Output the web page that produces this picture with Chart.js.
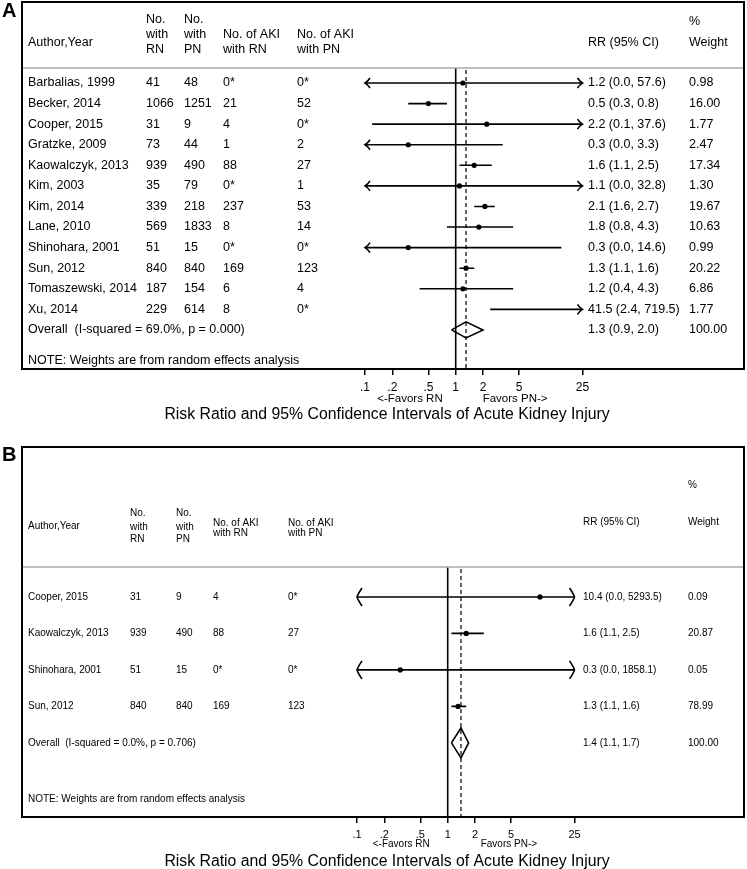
<!DOCTYPE html>
<html>
<head>
<meta charset="utf-8">
<script src="https://cdn.jsdelivr.net/npm/chart.js@4.4.0/dist/chart.umd.min.js"></script>
<style>
body { margin: 0; background: #fff; }
canvas { position: absolute; left: 0; }
</style>
</head>
<body>
<canvas id="chartA" width="747" height="430" style="top:0px"></canvas>
<canvas id="chartB" width="747" height="439" style="top:430px"></canvas>
<script>
// ---- data: panel A (all studies) ----
var studiesA = ['Barbalias, 1999', 'Becker, 2014', 'Cooper, 2015', 'Gratzke, 2009', 'Kaowalczyk, 2013', 'Kim, 2003',
                'Kim, 2014', 'Lane, 2010', 'Shinohara, 2001', 'Sun, 2012', 'Tomaszewski, 2014', 'Xu, 2014'];
var nRnA   = ['41', '1066', '31', '73', '939', '35', '339', '569', '51', '840', '187', '229'];
var nPnA   = ['48', '1251', '9', '44', '490', '79', '218', '1833', '15', '840', '154', '614'];
var akiRnA = ['0*', '21', '4', '1', '88', '0*', '237', '8', '0*', '169', '6', '8'];
var akiPnA = ['0*', '52', '0*', '2', '27', '1', '53', '14', '0*', '123', '4', '0*'];
var rrA    = [1.2, 0.5, 2.2, 0.3, 1.6, 1.1, 2.1, 1.8, 0.3, 1.3, 1.2, 41.5];
var loA    = [0.0, 0.3, 0.12, 0.0, 1.1, 0.0, 1.6, 0.8, 0.0, 1.1, 0.4, 2.4];
var hiA    = [57.6, 0.8, 37.6, 3.3, 2.5, 32.8, 2.7, 4.3, 14.6, 1.6, 4.3, 719.5];
var weightA = [0.98, 16.00, 1.77, 2.47, 17.34, 1.30, 19.67, 10.63, 0.99, 20.22, 6.86, 1.77];
var overallA = [1.3, 0.9, 2.0];   // rr, lo, hi
var overallTextA = 'Overall  (I-squared = 69.0%, p = 0.000)';

// ---- data: panel B ----
var studiesB = ['Cooper, 2015', 'Kaowalczyk, 2013', 'Shinohara, 2001', 'Sun, 2012'];
var nRnB   = ['31', '939', '51', '840'];
var nPnB   = ['9', '490', '15', '840'];
var akiRnB = ['4', '88', '0*', '169'];
var akiPnB = ['0*', '27', '0*', '123'];
var rrB    = [10.4, 1.6, 0.3, 1.3];
var loB    = [0.0, 1.1, 0.0, 1.1];
var hiB    = [5293.5, 2.5, 1858.1, 1.6];
var weightB = [0.09, 20.87, 0.05, 78.99];
var overallB = [1.4, 1.1, 1.7];
var overallTextB = 'Overall  (I-squared = 0.0%, p = 0.706)';

// axis ticks (shared)
var tickVals   = [0.1, 0.2, 0.5, 1, 2, 5, 25];
var tickLabels = ['.1', '.2', '.5', '1', '2', '5', '25'];
var X_MIN = 0.1, X_MAX = 25;

var FONT = "'Liberation Sans', Arial, sans-serif";
var TITLE = 'Risk Ratio and 95% Confidence Intervals of Acute Kidney Injury';

function rrText(r, l, h) {
    return r.toFixed(1) + ' (' + l.toFixed(1) + ', ' + h.toFixed(1) + ')';
}

// open arrowhead, dir -1 = pointing left, 1 = pointing right
function arrowHead(ctx, x, y, dir, ah, ad, bend) {
    ctx.beginPath();
    ctx.moveTo(x - dir * ad, y - ah);
    ctx.quadraticCurveTo(x - dir * ad * bend, y - ah * 0.35, x, y);
    ctx.quadraticCurveTo(x - dir * ad * bend, y + ah * 0.35, x - dir * ad, y + ah);
    ctx.stroke();
}

// draws the table, frame, arrows and captions round the plot area
function tablePlugin(p) {
    return {
        id: 'table' + p.label,
        beforeDatasetsDraw: function(chart) {
            var ctx = chart.ctx, a = chart.chartArea, xs = chart.scales.x;
            ctx.save();
            ctx.strokeStyle = '#000';
            ctx.lineWidth = 1.6;
            var x1 = xs.getPixelForValue(1);
            ctx.beginPath(); ctx.moveTo(x1, a.top); ctx.lineTo(x1, a.bottom); ctx.stroke();
            ctx.setLineDash([4, 3]);
            ctx.lineWidth = 1.2;
            var xo = xs.getPixelForValue(p.overall[0]);
            ctx.beginPath(); ctx.moveTo(xo, a.top + 2); ctx.lineTo(xo, a.bottom); ctx.stroke();
            ctx.restore();
        },
        afterDraw: function(chart) {
            var ctx = chart.ctx, a = chart.chartArea, xs = chart.scales.x, ys = chart.scales.y;
            ctx.save();
            // frame
            ctx.strokeStyle = '#000';
            ctx.lineWidth = 2;
            ctx.strokeRect(22, p.boxTop, 722, a.bottom - p.boxTop);
            // header separator
            ctx.strokeStyle = '#aaa';
            ctx.lineWidth = 1.5;
            ctx.beginPath(); ctx.moveTo(23, a.top); ctx.lineTo(743, a.top); ctx.stroke();
            // panel letter
            ctx.fillStyle = '#000';
            ctx.textBaseline = 'middle';
            ctx.font = 'bold 20px ' + FONT;
            ctx.fillText(p.label, 2, p.letterY);

            // header
            var c = p.cols;
            ctx.font = p.fontSize + 'px ' + FONT;
            var h = p.head;
            ctx.fillText('Author,Year', c[0], h.author);
            ctx.fillText('No.', c[1], h.l1); ctx.fillText('with', c[1], h.l2); ctx.fillText('RN', c[1], h.l3);
            ctx.fillText('No.', c[2], h.l1); ctx.fillText('with', c[2], h.l2); ctx.fillText('PN', c[2], h.l3);
            ctx.fillText('No. of AKI', c[3], h.k1); ctx.fillText('with RN', c[3], h.k2);
            ctx.fillText('No. of AKI', c[4], h.k1); ctx.fillText('with PN', c[4], h.k2);
            ctx.fillText('RR (95% CI)', c[5], h.rr);
            ctx.fillText('%', c[6], h.pct); ctx.fillText('Weight', c[6], h.rr);

            // rows
            p.studies.forEach(function(s, i) {
                var y = ys.getPixelForValue(i);
                ctx.fillText(s, c[0], y);
                ctx.fillText(p.nRn[i], c[1], y);
                ctx.fillText(p.nPn[i], c[2], y);
                ctx.fillText(p.akiRn[i], c[3], y);
                ctx.fillText(p.akiPn[i], c[4], y);
                ctx.fillText(rrText(p.rr[i], p.lo[i], p.hi[i]), c[5], y);
                ctx.fillText(p.weight[i].toFixed(2), c[6], y);
            });
            var yo = ys.getPixelForValue(p.studies.length);
            ctx.fillText(p.overallText, c[0], yo);
            ctx.fillText(rrText(p.overall[0], p.overall[1], p.overall[2]), c[5], yo);
            ctx.fillText('100.00', c[6], yo);
            ctx.fillText('NOTE: Weights are from random effects analysis', c[0], p.noteY);

            // arrows for clipped intervals
            ctx.strokeStyle = '#000';
            ctx.lineWidth = 1.6;
            p.studies.forEach(function(s, i) {
                var y = ys.getPixelForValue(i);
                if (p.lo[i] < X_MIN) arrowHead(ctx, xs.getPixelForValue(X_MIN), y, -1, p.arrowH, p.arrowD, p.arrowBend);
                if (p.hi[i] > X_MAX) arrowHead(ctx, xs.getPixelForValue(X_MAX), y, 1, p.arrowH, p.arrowD, p.arrowBend);
            });

            // captions under axis
            var xOne = xs.getPixelForValue(1);
            ctx.font = p.favFont + 'px ' + FONT;
            ctx.textAlign = 'right';
            ctx.fillText('<-Favors RN', xOne - p.favGapL, p.favY);
            ctx.textAlign = 'left';
            ctx.fillText('Favors PN->', xOne + p.favGapR, p.favY);
            ctx.font = '15.8px ' + FONT;
            ctx.textAlign = 'center';
            ctx.fillText(TITLE, 387, p.titleY);
            ctx.restore();
        }
    };
}

function makePanel(id, p) {
    var n = p.studies.length;
    var datasets = p.rr.map(function(v, i) {
        return {
            data: [{x: Math.max(p.lo[i], X_MIN), y: i}, {x: Math.min(p.hi[i], X_MAX), y: i}],
            showLine: true, borderColor: '#000', borderWidth: 1.6, pointRadius: 0
        };
    });
    datasets.push({
        data: p.rr.map(function(v, i) { return {x: v, y: i}; })
                  .filter(function(d) { return d.x >= X_MIN && d.x <= X_MAX; }),
        pointRadius: 2.6, backgroundColor: '#000', borderWidth: 0
    });
    var o = p.overall, dh = p.diamondH;
    datasets.push({
        data: [{x: o[1], y: n}, {x: o[0], y: n - dh}, {x: o[2], y: n}, {x: o[0], y: n + dh}, {x: o[1], y: n}],
        showLine: true, borderColor: '#000', borderWidth: 1.6, pointRadius: 0, fill: false
    });

    return new Chart(document.getElementById(id).getContext('2d'), {
        type: 'scatter',
        data: { datasets: datasets },
        options: {
            responsive: false,
            animation: false,
            events: [],
            layout: { padding: p.padding },
            plugins: { legend: { display: false }, tooltip: { enabled: false } },
            scales: {
                x: {
                    type: 'logarithmic', min: X_MIN, max: X_MAX,
                    afterBuildTicks: function(s) { s.ticks = tickVals.map(function(v) { return {value: v}; }); },
                    afterFit: function(s) { s.height = 24; },
                    ticks: {
                        callback: function(v, i) { return tickLabels[i]; },
                        color: '#000', font: { family: FONT, size: p.tickFont },
                        padding: p.tickPad, maxRotation: 0, autoSkip: false
                    },
                    grid: { drawOnChartArea: false, drawTicks: true, tickLength: 6, color: '#000', lineWidth: 1.5 },
                    border: { display: false }
                },
                y: { type: 'linear', reverse: true, min: p.yMin, max: p.yMax, display: false }
            }
        },
        plugins: [tablePlugin(p)]
    });
}

makePanel('chartA', {
    label: 'A', studies: studiesA, nRn: nRnA, nPn: nPnA, akiRn: akiRnA, akiPn: akiPnA,
    rr: rrA, lo: loA, hi: hiA, weight: weightA, overall: overallA, overallText: overallTextA,
    padding: { left: 365, right: 164.5, top: 68, bottom: 37 },
    yMin: -0.73, yMax: 13.9, diamondH: 0.39,
    boxTop: 2, letterY: 11, fontSize: 12.5,
    cols: [28, 146, 184, 223, 297, 588, 689],
    head: { author: 43, l1: 20, l2: 35, l3: 50, k1: 35, k2: 50, rr: 43, pct: 21.7 },
    noteY: 361, arrowH: 5, arrowD: 5, arrowBend: 0.6,
    tickFont: 12, tickPad: 5, favFont: 11.5, favGapL: 13, favGapR: 27, favY: 399, titleY: 415
});

makePanel('chartB', {
    label: 'B', studies: studiesB, nRn: nRnB, nPn: nPnB, akiRn: akiRnB, akiPn: akiPnB,
    rr: rrB, lo: loB, hi: hiB, weight: weightB, overall: overallB, overallText: overallTextB,
    padding: { left: 357, right: 172.5, top: 137, bottom: 28 },
    yMin: -0.82, yMax: 6.03, diamondH: 0.41,
    boxTop: 17, letterY: 25, fontSize: 10,
    cols: [28, 130, 176, 213, 288, 583, 688],
    head: { author: 96, l1: 83, l2: 97, l3: 109, k1: 93, k2: 103, rr: 92, pct: 55 },
    noteY: 369, arrowH: 9, arrowD: 5, arrowBend: 0.2,
    tickFont: 11, tickPad: 5, favFont: 10, favGapL: 18, favGapR: 33, favY: 414, titleY: 432
});
</script>
</body>
</html>
